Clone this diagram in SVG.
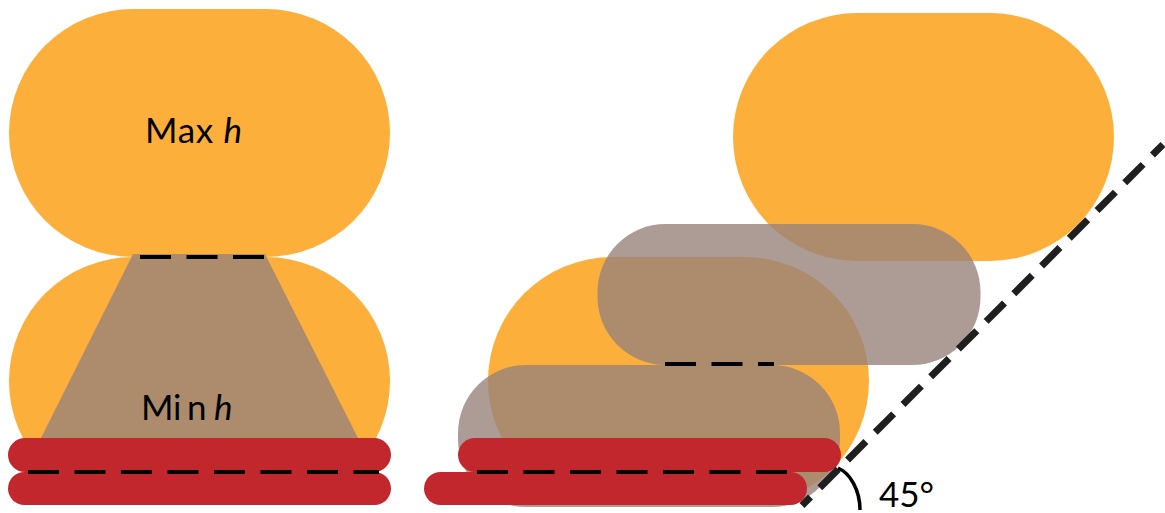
<svg xmlns="http://www.w3.org/2000/svg" width="1165" height="513" viewBox="0 0 1165 513">
<defs><filter id="soft" x="-5%" y="-5%" width="110%" height="110%"><feGaussianBlur stdDeviation="0.7"/></filter></defs>
<style>
.o{fill:#fcb03b}
.g{fill:#98837a;fill-opacity:.8;filter:url(#soft)}
.r{fill:#c1272d}
.d{fill:none;stroke:#000;stroke-width:4;stroke-dasharray:31 15.5}
.t{font-family:Lato,"Open Sans",sans-serif;font-size:35px;fill:#000}
</style>
<rect width="1165" height="513" fill="#fff"/>
<g id="left-max"><rect class="o" x="9" y="9" width="381" height="248" rx="124" ry="124"/><text class="t" x="145" y="143" textLength="97" lengthAdjust="spacing">Max <tspan font-style="italic">h</tspan></text></g>
<g id="left-min"><rect class="o" x="9" y="257" width="381" height="248" rx="124" ry="124"/><path class="g" d="M133 254H265L358 438V504H41V438Z"/><text class="t" x="141 173 187" y="420">Min<tspan x="214" font-style="italic">h</tspan></text></g>
<g id="left-plates"><rect class="r" x="8" y="438" width="383" height="34" rx="17"/><rect class="r" x="8" y="472" width="383" height="33" rx="16.5"/></g>
<g id="right-top"><rect class="o" x="733" y="13" width="381" height="248" rx="124" ry="124"/></g>
<g id="right-bottom"><rect class="o" x="488" y="257" width="381" height="248" rx="124" ry="124"/></g>
<g id="right-ghost-upper"><rect class="g" x="597.500" y="224" width="383" height="141" rx="68"/></g>
<g id="right-ghost-lower"><rect class="g" x="458" y="365" width="382" height="142" rx="68"/></g>
<g id="right-plates"><rect class="r" x="458" y="438" width="383" height="34" rx="17"/><rect class="r" x="424" y="472" width="383" height="33" rx="16.500"/></g>
<g id="connectors">
<path class="d" d="M140 257H265"/>
<path class="d" d="M28 472H379"/>
<path class="d" d="M477 472H787"/>
<path class="d" d="M665 364H774"/>
<path d="M802 505.500L1163 144.500" fill="none" stroke="#1f1f1f" stroke-width="7" stroke-dasharray="26 13.200" stroke-dashoffset="14"/>
<path d="M838 468C850 473 860 490 860 510" fill="none" stroke="#000" stroke-width="3.500"/>
</g>
<g id="angle"><text class="t" x="879" y="507">45°</text></g>
</svg>
